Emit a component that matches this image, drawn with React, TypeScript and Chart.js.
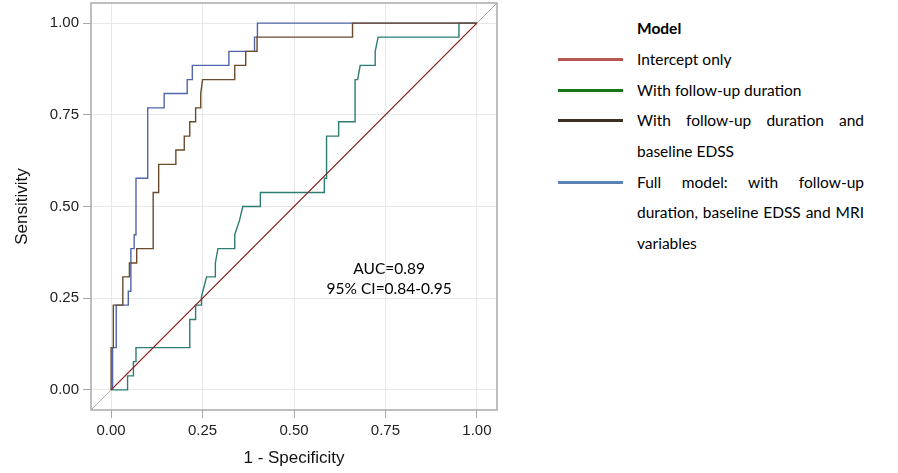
import React, { useEffect, useRef } from "react";
import { Chart, registerables } from "chart.js";

Chart.register(...registerables);

// ---- data ----
const AXIS_MIN = -0.055;
const AXIS_MAX = 1.055;
const TICK_VALUES = [0, 0.25, 0.5, 0.75, 1];

const interceptX = [0, 1];
const interceptY = [0, 1];

const followUpX = [0, 0.045, 0.045, 0.061, 0.061, 0.068, 0.068, 0.215, 0.215, 0.231, 0.231, 0.247, 0.247, 0.261, 0.285, 0.285, 0.292, 0.338, 0.338, 0.351, 0.36, 0.408, 0.408, 0.583, 0.583, 0.589, 0.589, 0.622, 0.622, 0.667, 0.667, 0.674, 0.681, 0.722, 0.722, 0.73, 0.951, 0.951, 1];
const followUpY = [0, 0, 0.038, 0.038, 0.077, 0.077, 0.115, 0.115, 0.192, 0.192, 0.231, 0.231, 0.254, 0.308, 0.308, 0.346, 0.385, 0.385, 0.423, 0.462, 0.5, 0.5, 0.538, 0.538, 0.577, 0.577, 0.692, 0.692, 0.731, 0.731, 0.846, 0.846, 0.885, 0.885, 0.923, 0.962, 0.962, 1, 1];

const edssX = [0, 0, 0.006, 0.006, 0.032, 0.032, 0.05, 0.05, 0.07, 0.07, 0.115, 0.115, 0.13, 0.13, 0.177, 0.177, 0.2, 0.2, 0.215, 0.215, 0.231, 0.231, 0.245, 0.245, 0.25, 0.338, 0.338, 0.368, 0.368, 0.399, 0.399, 0.66, 0.66, 1];
const edssY = [0, 0.115, 0.115, 0.231, 0.231, 0.308, 0.308, 0.346, 0.346, 0.385, 0.385, 0.538, 0.538, 0.615, 0.615, 0.654, 0.654, 0.692, 0.692, 0.731, 0.731, 0.769, 0.769, 0.808, 0.846, 0.846, 0.885, 0.885, 0.923, 0.923, 0.962, 0.962, 1, 1];

const fullX = [0.004, 0.004, 0.014, 0.014, 0.047, 0.047, 0.054, 0.054, 0.063, 0.063, 0.068, 0.068, 0.1, 0.1, 0.145, 0.145, 0.208, 0.208, 0.222, 0.222, 0.322, 0.322, 0.392, 0.392, 0.4, 0.4, 1];
const fullY = [0, 0.115, 0.115, 0.231, 0.231, 0.269, 0.269, 0.385, 0.385, 0.423, 0.423, 0.577, 0.577, 0.769, 0.769, 0.808, 0.808, 0.846, 0.846, 0.885, 0.885, 0.923, 0.923, 0.962, 0.962, 1, 1];

const refX = [AXIS_MIN, AXIS_MAX];
const refY = [AXIS_MIN, AXIS_MAX];

const annotationLines = ["AUC=0.89", "95% CI=0.84-0.95"];
const annotationX = 0.76;
const annotationY = [0.329, 0.274];

const legendTitle = "Model";
const legendItems = [
  { color: "#b85752", lines: ["Intercept only"] },
  { color: "#167516", lines: ["With follow-up duration"] },
  { color: "#3b3122", lines: ["With follow-up duration and", "baseline EDSS"] },
  { color: "#5a83b6", lines: ["Full model: with follow-up", "duration, baseline EDSS and MRI", "variables"] },
];

const pts = (xs: number[], ys: number[]) => xs.map((x, i) => ({ x, y: ys[i] }));

const framePlugin = {
  id: "frame",
  afterDatasetsDraw(chart: any) {
    const { ctx, chartArea: a, scales } = chart;
    ctx.save();
    ctx.strokeStyle = "#a9a9a9";
    ctx.lineWidth = 1.5;
    ctx.strokeRect(a.left, a.top, a.right - a.left, a.bottom - a.top);
    ctx.fillStyle = "#000";
    ctx.font = "15.5px Lato";
    ctx.textAlign = "center";
    ctx.textBaseline = "middle";
    annotationLines.forEach((t, i) => {
      ctx.fillText(t, scales.x.getPixelForValue(annotationX), scales.y.getPixelForValue(annotationY[i]));
    });
    ctx.restore();
  },
};

const axisCommon = (title: string) => ({
  type: "linear" as const,
  min: AXIS_MIN,
  max: AXIS_MAX,
  afterBuildTicks: (s: any) => {
    s.ticks = TICK_VALUES.map((v) => ({ value: v }));
  },
  grid: { color: "#e8e8e8", tickColor: "#a9a9a9", tickLength: 8, lineWidth: 1 },
  border: { display: false },
  ticks: {
    color: "#222",
    font: { family: "Liberation Sans", size: 15 },
    padding: 4,
    callback: (v: any) => Number(v).toFixed(2),
  },
  title: {
    display: true,
    text: title,
    color: "#111",
    font: { family: "Liberation Sans", size: 17 },
  },
});

export default function App() {
  const ref = useRef<HTMLCanvasElement>(null);
  useEffect(() => {
    const ds = (label: string, xs: number[], ys: number[], color: string, w = 1.4) => ({
      label,
      data: pts(xs, ys),
      showLine: true,
      borderColor: color,
      backgroundColor: color,
      borderWidth: w,
      pointRadius: 0,
      tension: 0,
    });
    const chart = new Chart(ref.current!, {
      type: "scatter",
      data: {
        datasets: [
          ds("Intercept only", interceptX, interceptY, "#8b1f1a", 1.2),
          ds("With follow-up duration and baseline EDSS", edssX, edssY, "#6a4a2b"),
          ds("Full model", fullX, fullY, "#5065aa"),
          ds("With follow-up duration", followUpX, followUpY, "#2c7c74"),
          ds("ref", refX, refY, "#a9a9a9", 1),
        ],
      },
      options: {
        animation: false,
        responsive: false,
        devicePixelRatio: 1,
        layout: { padding: { top: 3, right: 23, left: 0, bottom: 0 } },
        plugins: { legend: { display: false }, tooltip: { enabled: false } },
        scales: {
          x: {
            ...axisCommon("1 - Specificity"),
            afterFit: (s: any) => {
              s.height = 63;
              s.paddingLeft = 0;
              s.paddingRight = 0;
            },
          },
          y: {
            ...axisCommon("Sensitivity"),
            title: {
              display: true,
              text: "Sensitivity",
              color: "#111",
              font: { family: "Liberation Sans", size: 17 },
              padding: { top: 12, bottom: 4 },
            },
            afterFit: (s: any) => {
              s.width = 91;
              s.paddingTop = 0;
              s.paddingBottom = 0;
            },
          },
        },
      },
      plugins: [framePlugin],
    });
    return () => chart.destroy();
  }, []);

  return (
    <div style={{ position: "fixed", left: 0, top: 0, width: 898, height: 473, background: "#fff" }}>
      <canvas ref={ref} width={520} height={473} style={{ position: "absolute", left: 0, top: 0 }} />
      <div
        style={{
          position: "absolute",
          left: 558,
          top: 13,
          width: 306,
          fontFamily: "Lato",
          fontSize: 15.5,
          color: "#000",
        }}
      >
        <div style={{ marginLeft: 79, height: 31, lineHeight: "31px", fontWeight: "bold" }}>{legendTitle}</div>
        {legendItems.map((it, i) => (
          <div key={i} style={{ position: "relative" }}>
            <div style={{ position: "absolute", left: 0, top: 14, width: 65, height: 3, background: it.color }} />
            {it.lines.map((l, j) => (
              <div
                key={j}
                style={{
                  marginLeft: 79,
                  height: 30.7,
                  lineHeight: "30.7px",
                  whiteSpace: j < it.lines.length - 1 ? "normal" : "nowrap",
                  textAlign: "justify",
                  textAlignLast: j < it.lines.length - 1 ? "justify" : "left",
                  width: 227,
                } as any}
              >
                {l}
              </div>
            ))}
          </div>
        ))}
      </div>
    </div>
  );
}
